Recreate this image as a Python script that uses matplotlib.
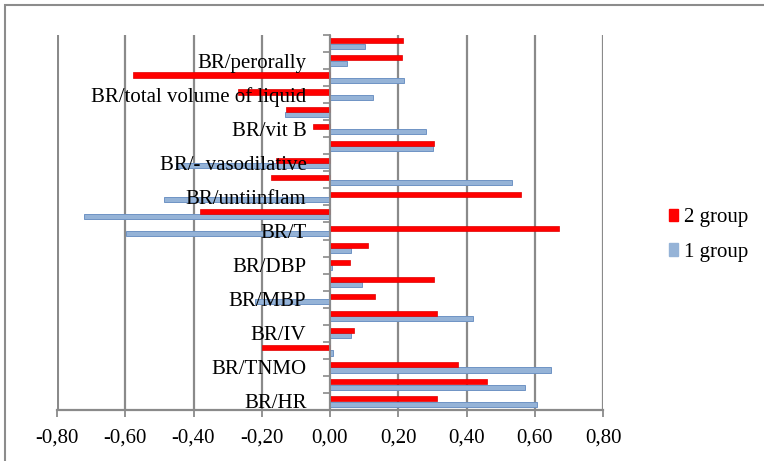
import matplotlib.pyplot as plt
import numpy as np
from matplotlib.patches import Patch, Rectangle
from matplotlib.ticker import FixedLocator, FuncFormatter

# categories from bottom to top; only every other one carries a label
categories = [
    "BR/HR", "", "BR/TNMO", "", "BR/IV", "", "BR/MBP", "", "BR/DBP", "",
    "BR/T", "", "BR/untiinflam", "", "BR/- vasodilative", "", "BR/vit B", "",
    "BR/total volume of liquid", "", "BR/perorally", "",
]
group2 = [0.313, 0.461, 0.375, -0.200, 0.069, 0.313, 0.132, 0.306, 0.059, 0.112,
          0.672, -0.382, 0.561, -0.173, -0.159, 0.306, -0.051, -0.129, -0.269, -0.577,
          0.210, 0.215]
group1 = [0.607, 0.571, 0.647, 0.009, 0.063, 0.419, -0.220, 0.093, 0.005, 0.063,
          -0.598, -0.722, -0.486, 0.532, -0.450, 0.302, 0.282, -0.133, 0.126, 0.217,
          0.049, 0.103]
xticks = [-0.8, -0.6, -0.4, -0.2, 0.0, 0.2, 0.4, 0.6, 0.8]

plt.rcParams["font.family"] = ["Liberation Serif", "DejaVu Serif"]
GRID = "#8a8a8a"
RED = "#ff0000"
BLUE = "#95b3d7"

fig = plt.figure(figsize=(7.64, 4.61), dpi=100)
fig.patches.append(Rectangle((5 / 764, -0.1), 1.2, 1 - 5 / 461 + 0.1,
                             transform=fig.transFigure, fill=False,
                             edgecolor="#8c8c8c", linewidth=1.5))
ax = fig.add_axes([57 / 764, 1 - 410 / 461, (603 - 57) / 764, (410 - 35) / 461])

# vertical gridlines below the bars, the back wall at -0.8 a little heavier
for xv in xticks:
    ax.axvline(xv, color=GRID, linewidth=2.2 if xv == xticks[0] else 1.6, zorder=0)

y = np.arange(len(categories))
h = 0.3
ax.barh(y - 0.155, group1, height=h, color=BLUE, edgecolor="#6f93c4",
        linewidth=0.7, zorder=1)
ax.barh(y + 0.155, group2, height=h, color=RED, edgecolor="#e00000",
        linewidth=0.5, zorder=1)

ax.set_xlim(-0.8, 0.8)
ax.set_ylim(-0.5, len(categories) - 0.5)
ax.set_xticks(xticks)
ax.xaxis.set_major_formatter(FuncFormatter(lambda v, _: f"{v:.2f}".replace(".", ",")))
ax.tick_params(axis="x", length=5, width=1.3, color=GRID, pad=8, labelsize=15)

# labels on every second category, boundary ticks on the zero axis
ax.yaxis.set_major_locator(FixedLocator(y[::2]))
ax.set_yticklabels(categories[::2])
ax.yaxis.set_minor_locator(FixedLocator(np.arange(-0.5, len(categories), 1.0)))
ax.tick_params(axis="y", which="major", length=0, pad=17, labelsize=15)
ax.tick_params(axis="y", which="minor", length=5, width=1.2, color=GRID)

ax.spines["left"].set_position(("data", 0))
ax.spines["left"].set_color(GRID)
ax.spines["left"].set_linewidth(1.3)
ax.spines["bottom"].set_color(GRID)
ax.spines["bottom"].set_linewidth(1.6)
for side in ("top", "right"):
    ax.spines[side].set_visible(False)
ax.set_axisbelow(False)

handles = [Patch(facecolor=RED, edgecolor=RED, label="2 group"),
           Patch(facecolor=BLUE, edgecolor=BLUE, label="1 group")]
fig.legend(handles=handles, loc="center left", bbox_to_anchor=(650 / 764, 1 - 235 / 461),
           frameon=False, fontsize=15, handlelength=0.45, handleheight=0.55,
           handletextpad=0.3, labelspacing=0.75)

fig.savefig("out.png", dpi=100)
